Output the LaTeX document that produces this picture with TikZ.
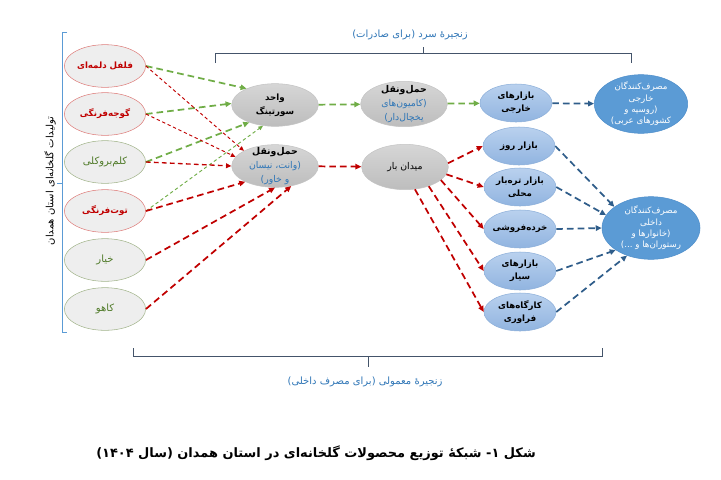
\documentclass[tikz,border=0pt]{standalone}
\usepackage{fontspec}
\usetikzlibrary{arrows.meta,shapes.geometric}
\newfontfamily\farsi[Script=Arabic]{DejaVu Sans}
\TeXXeTstate=1
\newcommand{\fa}[1]{{\farsi\beginR #1\endR}}

\definecolor{prodfill}{HTML}{EEEEEE}
\definecolor{prodred}{HTML}{C00000}
\definecolor{prodgreen}{HTML}{4F7A28}
\definecolor{edgered}{HTML}{DE7E7C}
\definecolor{edgegreen}{HTML}{A3B58C}
\definecolor{hubtop}{HTML}{D6D6D6}
\definecolor{hubbottom}{HTML}{BDBDBD}
\definecolor{hubedge}{HTML}{C4C4C4}
\definecolor{outlettop}{HTML}{B9D1EE}
\definecolor{outletbottom}{HTML}{91B4E0}
\definecolor{outletedge}{HTML}{8EB0DA}
\definecolor{consfill}{HTML}{5B9BD5}
\definecolor{consedge}{HTML}{4F8FCB}
\definecolor{flowgreen}{HTML}{70AD47}
\definecolor{flowred}{HTML}{C00000}
\definecolor{flowblue}{HTML}{2F5D8A}
\definecolor{chainblue}{HTML}{2E75B6}
\definecolor{bracegray}{HTML}{44546A}
\definecolor{braceblue}{HTML}{5B9BD5}

\begin{document}
\begin{tikzpicture}[
    x=0.75pt, y=-0.75pt,
    every node/.style={font=\fontsize{7.5}{9}\selectfont, align=center},
    prod/.style={ellipse, fill=prodfill, inner sep=-5pt, minimum width=61pt, minimum height=32pt},
    redprod/.style={prod, draw=edgered, text=prodred, font=\fontsize{6.5}{9}\selectfont\bfseries},
    greenprod/.style={prod, draw=edgegreen, text=prodgreen},
    hub/.style={ellipse, draw=hubedge, top color=hubtop, bottom color=hubbottom, inner sep=-5pt,
        minimum width=65pt, minimum height=32pt, font=\fontsize{7}{10.5}\selectfont},
    outlet/.style={ellipse, draw=outletedge, top color=outlettop, bottom color=outletbottom, inner sep=-5pt,
        minimum width=54pt, minimum height=28.5pt, font=\fontsize{6.5}{10}\selectfont\bfseries},
    consumer/.style={ellipse, draw=consedge, fill=consfill, text=white, inner sep=-5pt,
        font=\fontsize{6.5}{8.5}\selectfont},
    greenflow/.style={-{Triangle[length=4.5pt,width=4pt]}, flowgreen, line width=1.3pt, dash pattern=on 5pt off 3pt},
    greenthin/.style={-{Triangle[length=3.5pt,width=3pt]}, flowgreen, line width=0.7pt, dash pattern=on 2.5pt off 2pt},
    redflow/.style={-{Triangle[length=4.5pt,width=4pt]}, flowred, line width=1.3pt, dash pattern=on 5pt off 3pt},
    redmid/.style={-{Triangle[length=4pt,width=3.5pt]}, flowred, line width=1pt, dash pattern=on 3.5pt off 2.5pt},
    redthin/.style={-{Triangle[length=3.5pt,width=3pt]}, flowred, line width=0.7pt, dash pattern=on 2.5pt off 2pt},
    blueflow/.style={-{Triangle[length=4.5pt,width=4pt]}, flowblue, line width=1.3pt, dash pattern=on 5pt off 3pt},
    brace/.style={bracegray, line width=0.7pt},
    chainlabel/.style={text=chainblue}
]
    \useasboundingbox (0,0) rectangle (721,479);

    % greenhouse products
    \node[redprod] (pepper) at (105,66) {\fa{فلفل دلمه‌ای}};
    \node[redprod] (tomato) at (105,114) {\fa{گوجه‌فرنگی}};
    \node[greenprod] (broccoli) at (105,162) {\fa{کلم‌بروکلی}};
    \node[redprod] (strawberry) at (105,211) {\fa{توت‌فرنگی}};
    \node[greenprod] (cucumber) at (105,260) {\fa{خیار}};
    \node[greenprod] (lettuce) at (105,309) {\fa{کاهو}};

    % sorting, transport and wholesale
    \node[hub, font=\fontsize{6.5}{10.5}\selectfont\bfseries] (sorting) at (275,105) {\fa{واحد}\\\fa{سورتینگ}};
    \node[hub] (van) at (275,166) {{\bfseries\fa{حمل‌ونقل}}\\\textcolor{chainblue}{\fa{(وانت، نیسان}}\\\textcolor{chainblue}{\fa{و خاور)}}};
    \node[hub, minimum height=34pt] (reefer) at (404,104) {{\bfseries\fa{حمل‌ونقل}}\\\textcolor{chainblue}{\fa{(کامیون‌های}}\\\textcolor{chainblue}{\fa{یخچال‌دار)}}};
    \node[hub, minimum height=34pt] (market) at (405,167) {\fa{میدان بار}};

    % markets
    \node[outlet] (foreignmkt) at (516,103) {\fa{بازارهای}\\\fa{خارجی}};
    \node[outlet] (daymkt) at (519,146) {\fa{بازار روز}};
    \node[outlet] (localmkt) at (520,187) {\fa{بازار تره‌بار}\\\fa{محلی}};
    \node[outlet] (retail) at (520,229) {\fa{خرده‌فروشی}};
    \node[outlet] (mobile) at (520,271) {\fa{بازارهای}\\\fa{سیار}};
    \node[outlet] (processing) at (520,312) {\fa{کارگاه‌های}\\\fa{فراوری}};

    % consumers
    \node[consumer, minimum width=70pt, minimum height=44pt] (foreigncons) at (641,104)
        {\fa{مصرف‌کنندگان}\\\fa{خارجی}\\\fa{(روسیه و}\\\fa{کشورهای عربی)}};
    \node[consumer, minimum width=73.5pt, minimum height=47pt] (domcons) at (651,228)
        {\fa{مصرف‌کنندگان}\\\fa{داخلی}\\\fa{(خانوارها و}\\\fa{رستوران‌ها و ...)}};

    % products -> sorting / van
    \foreach \src/\ang in {pepper/150, tomato/178, broccoli/214}
        \draw[greenflow] (\src.east) -- (sorting.\ang);
    \draw[greenthin] (strawberry.east) -- (sorting.240);
    \foreach \src/\ang in {pepper/154, tomato/167}
        \draw[redthin] (\src.east) -- (van.\ang);
    \draw[redmid] (broccoli.east) -- (van.180);
    \foreach \src/\ang in {strawberry/208, cucumber/270, lettuce/309}
        \draw[redflow] (\src.east) -- (van.\ang);

    % cold chain
    \draw[greenflow] (sorting) -- (reefer);
    \draw[greenflow] (reefer) -- (foreignmkt);
    \draw[blueflow] (foreignmkt) -- (foreigncons);

    % ordinary chain
    \draw[redflow] (van) -- (market);
    \foreach \dst/\ang in {daymkt/5, localmkt/-10, retail/-20, mobile/-39, processing/-66}
        \draw[redflow] (market.\ang) -- (\dst.west);
    \foreach \src/\ang in {daymkt/150, localmkt/164, retail/180, mobile/212, processing/229}
        \draw[blueflow] (\src.east) -- (domcons.\ang);

    % brackets
    \draw[brace] (215,63) -- (215,53) -- (631,53) -- (631,63) (423,53) -- (423,47);
    \node[chainlabel] (coldlbl) at (410,35) {\fa{زنجیرهٔ سرد (برای صادرات)}};
    \draw[brace] (133,348) -- (133,356) -- (602,356) -- (602,348) (368,356) -- (368,367);
    \node[chainlabel] (normallbl) at (365,382) {\fa{زنجیرهٔ معمولی (برای مصرف داخلی)}};
    \draw[braceblue, line width=0.7pt] (67,32) -- (62,32) -- (62,332) -- (67,332) (62,183) -- (57,183);
    \node[rotate=90] (prodlbl) at (50,181) {\fa{تولیدات گلخانه‌ای استان همدان}};

    \node[font=\fontsize{9.7}{12}\selectfont\bfseries] (caption) at (316,453)
        {\fa{شکل ۱- شبکهٔ توزیع محصولات گلخانه‌ای در استان همدان (سال ۱۴۰۴)}};
\end{tikzpicture}
\end{document}
